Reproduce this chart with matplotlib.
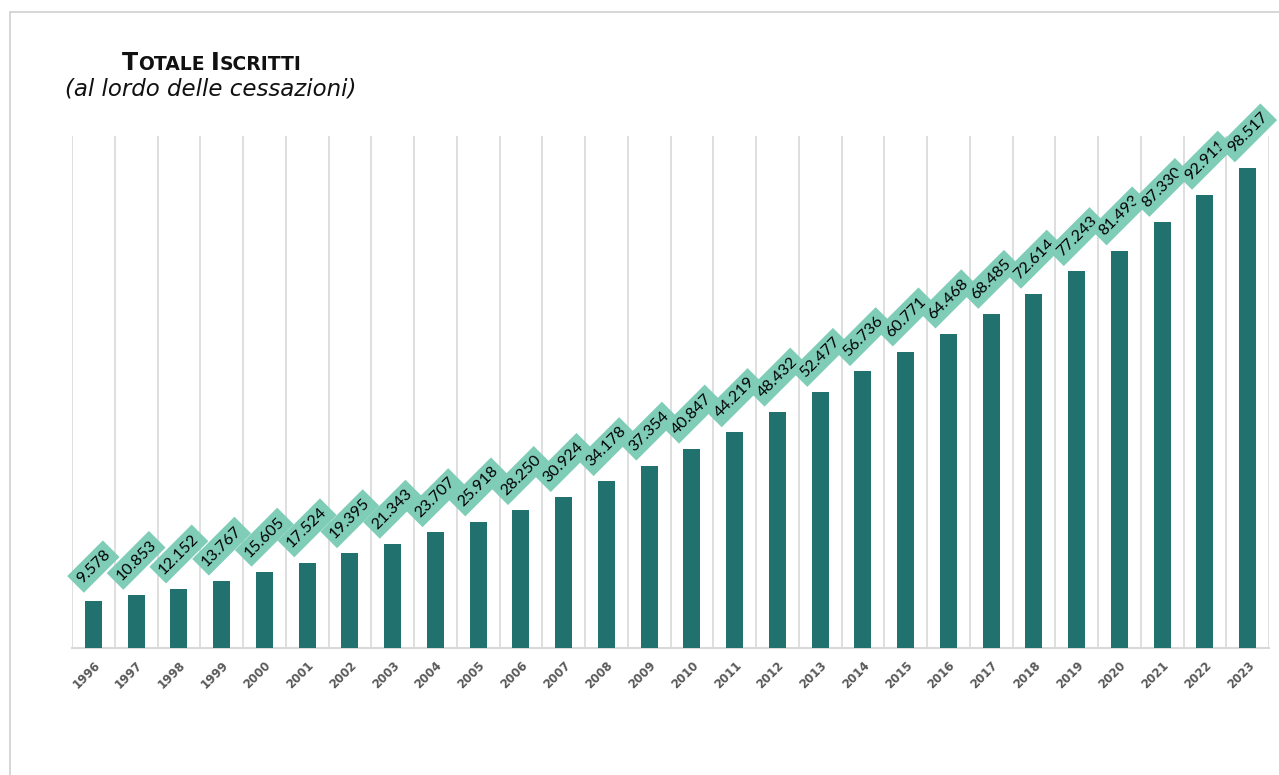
import numpy as np
import matplotlib
matplotlib.use("Agg")
import matplotlib.pyplot as plt
from matplotlib.patches import Rectangle

# Totale iscritti per anno
years = [str(y) for y in range(1996, 2024)]
iscritti = [9578, 10853, 12152, 13767, 15605, 17524, 19395, 21343, 23707, 25918,
            28250, 30924, 34178, 37354, 40847, 44219, 48432, 52477, 56736, 60771,
            64468, 68485, 72614, 77243, 81493, 87330, 92911, 98517]

bar_color = '#21716f'
label_color = '#7fcdb7'
grid_color = '#d9d9d9'


def fmt(v):
    return '{:,}'.format(v).replace(',', '.')


def small_caps(fig, x, y, words, big, small, **kw):
    # draw text in small caps, piece by piece, centred on x
    renderer = fig.canvas.get_renderer()
    pieces = []
    for i, w in enumerate(words):
        if i > 0:
            pieces.append((' ', small))
        pieces.append((w[0], big))
        pieces.append((w[1:].upper(), small))
    texts = []
    cur = 0
    for s, size in pieces:
        t = fig.text(0, y, s, fontsize=size, va='baseline', ha='left', **kw)
        w = t.get_window_extent(renderer).width
        texts.append((t, cur))
        cur += w
    W, H = fig.canvas.get_width_height()
    x0 = x * W - cur / 2
    for t, off in texts:
        t.set_x((x0 + off) / W)


def main():
    fig = plt.figure(figsize=(12.79, 7.75), dpi=100)
    W, H = 1279, 775

    # outer border
    fig.patches.append(Rectangle((10 / W, -0.05), 1.1, (775 - 12) / H + 0.05,
                                 transform=fig.transFigure, fill=False,
                                 edgecolor='#d0d0d0', linewidth=1.2))

    ax = fig.add_axes([72 / W, (775 - 648) / H, (1269 - 72) / W, (648 - 136) / H])
    x = np.arange(len(years))
    ax.bar(x, iscritti, width=0.4, color=bar_color, zorder=3)
    ax.set_xlim(-0.5, len(years) - 0.5)
    ax.set_ylim(0, 105000)

    for b in np.arange(-0.5, len(years), 1.0):
        ax.axvline(b, color=grid_color, linewidth=1.2, zorder=1)
    for s in ['top', 'right', 'left']:
        ax.spines[s].set_visible(False)
    ax.spines['bottom'].set_color(grid_color)
    ax.spines['bottom'].set_linewidth(1.5)
    ax.set_yticks([])
    ax.set_xticks(x)
    ax.set_xticklabels(years, rotation=45, ha='right', rotation_mode='anchor',
                       fontsize=8.5, fontweight='bold', color='#595959')
    ax.tick_params(axis='x', length=0, pad=8)

    for xi, v in zip(x, iscritti):
        ax.annotate(fmt(v), (xi, v), xytext=(0, 25), textcoords='offset points',
                    ha='center', va='center', rotation=45, fontsize=11.5,
                    family='Lato', color='black', zorder=5,
                    bbox=dict(boxstyle='square,pad=0.3', fc=label_color, ec='none'))

    fig.canvas.draw()
    small_caps(fig, 212 / W, 1 - 70 / H, ['Totale', 'Iscritti'], 17, 13.5,
               fontweight='bold', color='#111111')
    fig.text(211 / W, 1 - 96 / H, '(al lordo delle cessazioni)', ha='center',
             va='baseline', fontsize=16.5, style='italic', color='#111111')

    fig.savefig('out.png', dpi=100)


if __name__ == "__main__":
    main()
